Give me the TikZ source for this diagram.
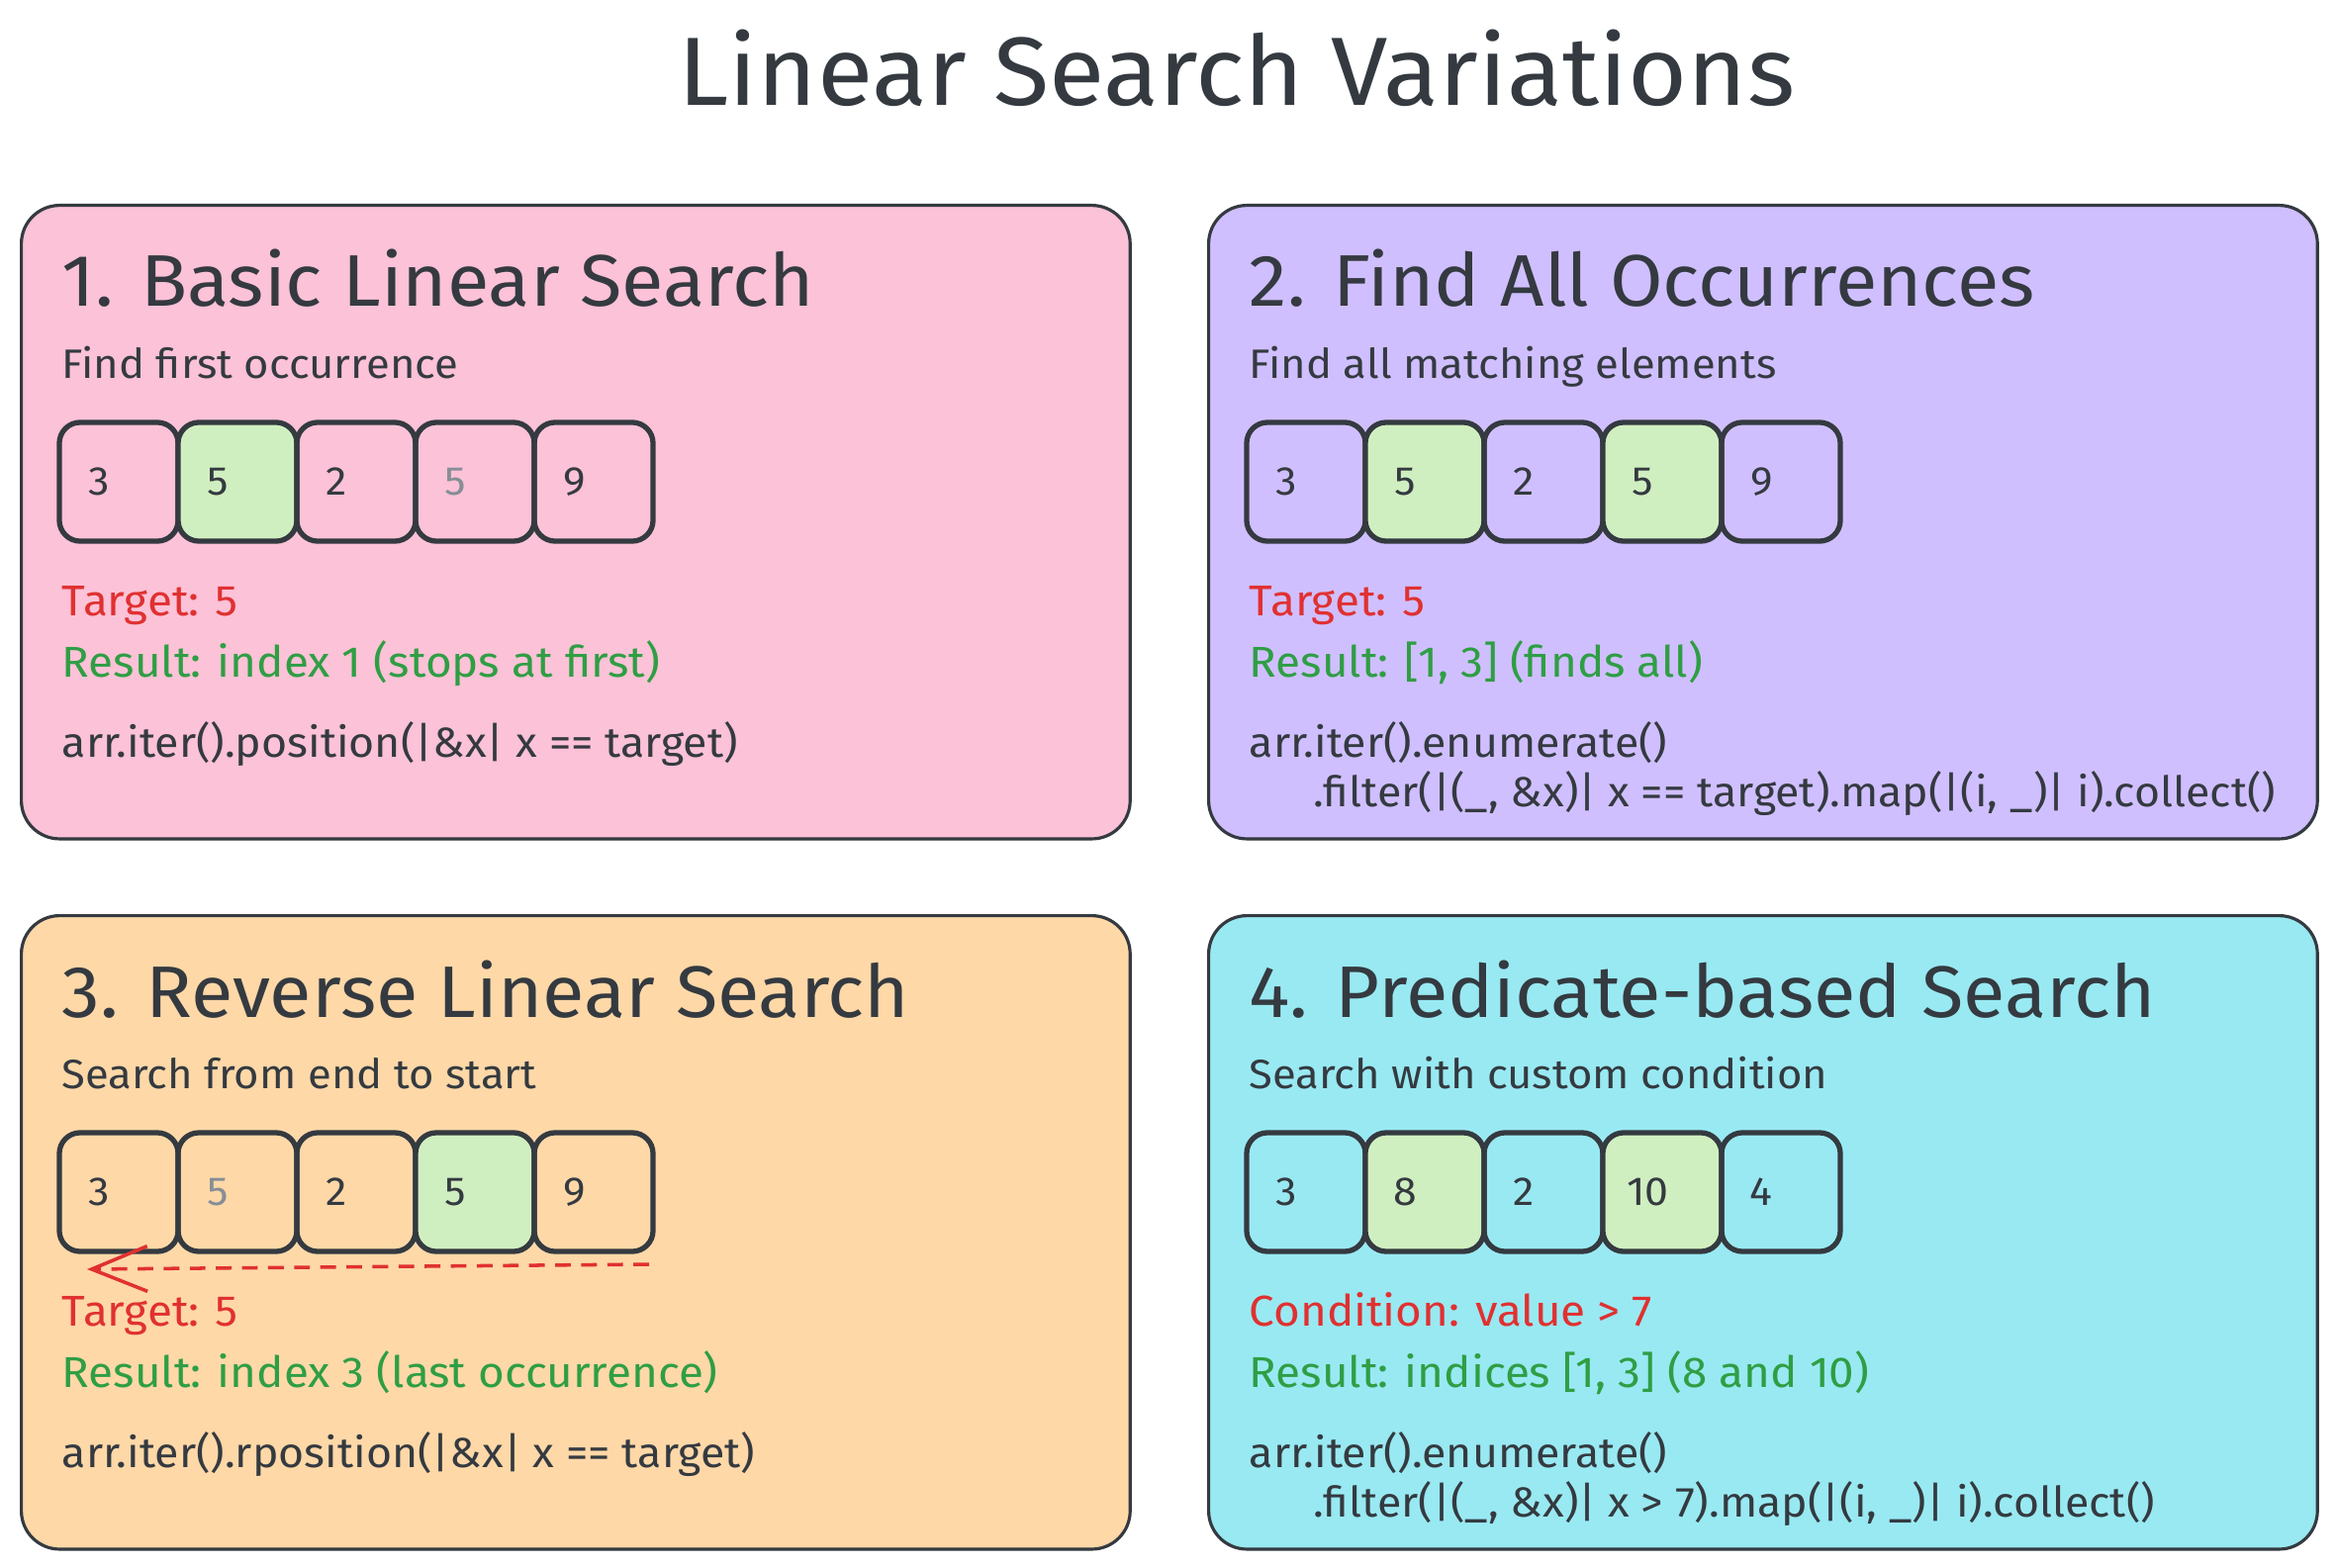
\documentclass[tikz,border=0pt]{standalone}
\usepackage{fontspec}
\setmainfont{Fira Sans}[FakeStretch=1.05]
\usetikzlibrary{arrows.meta}
\definecolor{ink}{HTML}{343A40}
\definecolor{cpink}{HTML}{FCC2D7}
\definecolor{cviolet}{HTML}{D0BFFF}
\definecolor{corange}{HTML}{FFD8A8}
\definecolor{ccyan}{HTML}{99E9F2}
\definecolor{hit}{HTML}{D0EFC0}
\definecolor{tred}{HTML}{E03131}
\definecolor{tgreen}{HTML}{2F9E44}
\definecolor{tgray}{HTML}{868E96}
\tikzset{
  card/.style={draw=ink, line width=0.9pt, rounded corners=11pt, minimum width=11.2cm, minimum height=6.4cm, anchor=north west, inner sep=0pt},
  cell/.style={draw=ink, line width=1.5pt, rounded corners=6pt, minimum width=1.2cm, minimum height=1.2cm, inner sep=0pt},
  num/.style={text=ink, inner sep=0pt, font=\fontsize{11.6pt}{14pt}\selectfont},
  maintitle/.style={text=ink, inner sep=0pt, anchor=base, font=\fontsize{27.9pt}{32pt}\selectfont},
  cardtitle/.style={text=ink, inner sep=0pt, anchor=base west, font=\fontsize{21pt}{25pt}\selectfont},
  subline/.style={text=ink, inner sep=0pt, anchor=base west, font=\fontsize{11.8pt}{14pt}\selectfont},
  redline/.style={text=tred, inner sep=0pt, anchor=base west, font=\fontsize{12.4pt}{15pt}\selectfont},
  greenline/.style={text=tgreen, inner sep=0pt, anchor=base west, font=\fontsize{12.4pt}{15pt}\selectfont},
  codeline/.style={text=ink, inner sep=0pt, anchor=base west, font=\fontsize{12.1pt}{15pt}\selectfont},
  scanarrow/.style={draw=tred, line width=1pt, dash pattern=on 4.5pt off 3pt, -{Straight Barb[length=16pt,width=13pt]}}
}
\begin{document}
\begin{tikzpicture}[x=0.01cm,y=-0.01cm]
\useasboundingbox[fill=white] (0,0) rectangle (2360,1585);

\node[maintitle] (title) at (1250,107) {Linear Search Variations};

% ---------- Card 1 ----------
\node[card, fill=cpink] (card1) at (20,206) {};
\node[cardtitle] (t1) at (62,310) {1. Basic Linear Search};
\node[subline] (s1) at (62,382) {Find first occurrence};
\node[cell] (a1) at (120,487) {};
\node[cell, fill=hit] (a2) at (240,487) {};
\node[cell] (a3) at (360,487) {};
\node[cell] (a4) at (480,487) {};
\node[cell] (a5) at (600,487) {};
\node[num] (a1n) at ([xshift=0.43cm]a1.west) {3};
\node[num] (a2n) at ([xshift=0.43cm]a2.west) {5};
\node[num] (a3n) at ([xshift=0.43cm]a3.west) {2};
\node[num, text=tgray] (a4n) at ([xshift=0.43cm]a4.west) {5};
\node[num] (a5n) at ([xshift=0.43cm]a5.west) {9};
\node[redline] (r1) at (62,622) {Target: 5};
\node[greenline] (g1) at (62,684) {Result: index 1 (stops at first)};
\node[codeline] (k1) at (62,765) {arr.iter().position(|\&x| x == target)};

% ---------- Card 2 ----------
\node[card, fill=cviolet] (card2) at (1220,206) {};
\node[cardtitle] (t2) at (1262,310) {2. Find All Occurrences};
\node[subline] (s2) at (1262,382) {Find all matching elements};
\node[cell] (b1) at (1320,487) {};
\node[cell, fill=hit] (b2) at (1440,487) {};
\node[cell] (b3) at (1560,487) {};
\node[cell, fill=hit] (b4) at (1680,487) {};
\node[cell] (b5) at (1800,487) {};
\node[num] (b1n) at ([xshift=0.43cm]b1.west) {3};
\node[num] (b2n) at ([xshift=0.43cm]b2.west) {5};
\node[num] (b3n) at ([xshift=0.43cm]b3.west) {2};
\node[num] (b4n) at ([xshift=0.43cm]b4.west) {5};
\node[num] (b5n) at ([xshift=0.43cm]b5.west) {9};
\node[redline] (r2) at (1262,622) {Target: 5};
\node[greenline] (g2) at (1262,684) {Result: [1, 3] (finds all)};
\node[codeline] (k2) at (1262,765) {arr.iter().enumerate()};
\node[codeline] (k2b) at (1327,815) {.filter(|(\_, \&x)| x == target).map(|(i, \_)| i).collect()};

% ---------- Card 3 ----------
\node[card, fill=corange] (card3) at (20,924) {};
\node[cardtitle] (t3) at (62,1028) {3. Reverse Linear Search};
\node[subline] (s3) at (62,1100) {Search from end to start};
\node[cell] (c1) at (120,1205) {};
\node[cell] (c2) at (240,1205) {};
\node[cell] (c3) at (360,1205) {};
\node[cell, fill=hit] (c4) at (480,1205) {};
\node[cell] (c5) at (600,1205) {};
\node[num] (c1n) at ([xshift=0.43cm]c1.west) {3};
\node[num, text=tgray] (c2n) at ([xshift=0.43cm]c2.west) {5};
\node[num] (c3n) at ([xshift=0.43cm]c3.west) {2};
\node[num] (c4n) at ([xshift=0.43cm]c4.west) {5};
\node[num] (c5n) at ([xshift=0.43cm]c5.west) {9};
\coordinate (scanstart) at (656,1278);
\coordinate (scanend) at (88,1283);
\draw[scanarrow] (scanstart) -- (scanend);
\node[redline] (r3) at (62,1340) {Target: 5};
\node[greenline] (g3) at (62,1402) {Result: index 3 (last occurrence)};
\node[codeline] (k3) at (62,1483) {arr.iter().rposition(|\&x| x == target)};

% ---------- Card 4 ----------
\node[card, fill=ccyan] (card4) at (1220,924) {};
\node[cardtitle] (t4) at (1262,1028) {4. Predicate-based Search};
\node[subline] (s4) at (1262,1100) {Search with custom condition};
\node[cell] (d1) at (1320,1205) {};
\node[cell, fill=hit] (d2) at (1440,1205) {};
\node[cell] (d3) at (1560,1205) {};
\node[cell, fill=hit] (d4) at (1680,1205) {};
\node[cell] (d5) at (1800,1205) {};
\node[num] (d1n) at ([xshift=0.43cm]d1.west) {3};
\node[num] (d2n) at ([xshift=0.43cm]d2.west) {8};
\node[num] (d3n) at ([xshift=0.43cm]d3.west) {2};
\node[num] (d4n) at ([xshift=0.48cm]d4.west) {10};
\node[num] (d5n) at ([xshift=0.43cm]d5.west) {4};
\node[redline] (r4) at (1262,1340) {Condition: value > 7};
\node[greenline] (g4) at (1262,1402) {Result: indices [1, 3] (8 and 10)};
\node[codeline] (k4) at (1262,1483) {arr.iter().enumerate()};
\node[codeline] (k4b) at (1327,1533) {.filter(|(\_, \&x)| x > 7).map(|(i, \_)| i).collect()};
\end{tikzpicture}
\end{document}
